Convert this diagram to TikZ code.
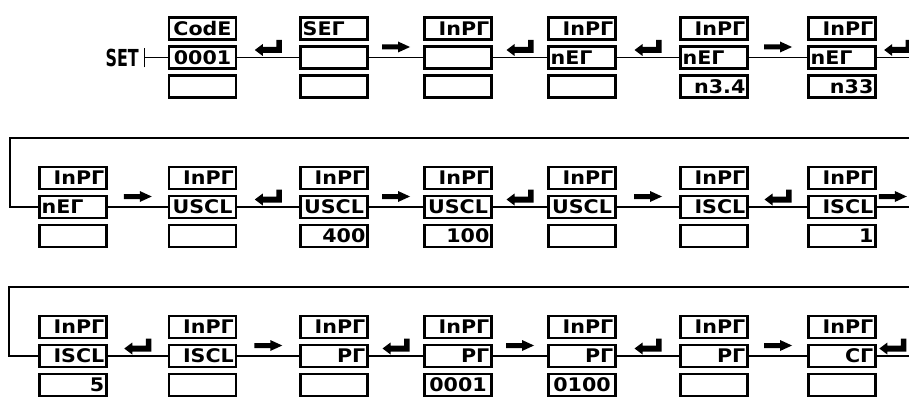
\documentclass[tikz,border=0pt]{standalone}
\usepackage{fontspec}
\newfontfamily\segfont[FakeStretch=1.1]{DejaVu Sans}
\newfontfamily\keyfont[FakeStretch=0.68]{DejaVu Sans}
\usetikzlibrary{arrows.meta}
\begin{document}
\begin{tikzpicture}[x=0.03cm,y=0.03cm,
  seg/.style={draw,line width=2.2pt,minimum width=2cm,minimum height=0.66cm,
    text width=1.88cm,inner xsep=0.06cm,inner ysep=0pt,text height=11.5pt,text depth=0pt,
    align=right,font=\segfont\bfseries\fontsize{16}{16}\selectfont},
  segl/.style={seg,align=left},
  segc/.style={seg,align=center},
  link/.style={line width=1.6pt},
  enterkey/.pic={\fill (-13.5,7.5) -- (-5.5,13.5) -- (-5.5,10.5) -- (8,10.5) -- (8,17.5)
    -- (13.5,17.5) -- (13.5,4.5) -- (-5.5,4.5) -- (-5.5,1.5) -- cycle;},
  nextkey/.pic={\fill (-14,8) -- (2,8) -- (2,5) -- (14,10.5) -- (2,16) -- (2,13)
    -- (-14,13) -- cycle;}]
\useasboundingbox (0,0) rectangle (909,-397);
% first row
\node[anchor=east,inner sep=0pt,font=\keyfont\bfseries\fontsize{20}{20}\selectfont] (setkey) at (139,-57.5) {SET};
\coordinate (setbar) at (143.5,-57.5);
\node[segc] (a2t) at (202.5,-28.5) {CodE};
\node[segc] (a2m) at (202.5,-57.5) {0001};
\node[seg] (a2l) at (202.5,-86.5) {};
\node[segl] (a3t) at (334,-28.5) {SEΓ};
\node[seg] (a3m) at (334,-57.5) {};
\node[seg] (a3l) at (334,-86.5) {};
\node[seg] (a4t) at (458,-28.5) {InPΓ};
\node[seg] (a4m) at (458,-57.5) {};
\node[seg] (a4l) at (458,-86.5) {};
\node[seg] (a5t) at (582,-28.5) {InPΓ};
\node[segl] (a5m) at (582,-57.5) {nEΓ};
\node[seg] (a5l) at (582,-86.5) {};
\node[seg] (a6t) at (714,-28.5) {InPΓ};
\node[segl] (a6m) at (714,-57.5) {nEΓ};
\node[seg] (a6l) at (714,-86.5) {n3.4};
\node[seg] (a7t) at (842,-28.5) {InPΓ};
\node[segl] (a7m) at (842,-57.5) {nEΓ};
\node[seg] (a7l) at (842,-86.5) {n33};
\coordinate (a8) at (909,-57.5);
\draw[link,{Bar[width=17pt]}-] (setbar) -- (a2m);
\draw[link] (a2m) -- pic[pos=.5]{enterkey} (a3m);
\draw[link] (a3m) -- pic[pos=.5]{nextkey} (a4m);
\draw[link] (a4m) -- pic[pos=.5]{enterkey} (a5m);
\draw[link] (a5m) -- pic[pos=.5]{enterkey} (a6m);
\draw[link] (a6m) -- pic[pos=.5]{nextkey} (a7m);
\draw[link] (a7m) -- pic[pos=.65]{enterkey} (a8);
% second row
\node[seg] (b1t) at (73,-178) {InPΓ};
\node[segl] (b1m) at (73,-207) {nEΓ};
\node[seg] (b1l) at (73,-236) {};
\node[seg] (b2t) at (202.5,-178) {InPΓ};
\node[segc] (b2m) at (202.5,-207) {USCL};
\node[seg] (b2l) at (202.5,-236) {};
\node[seg] (b3t) at (334,-178) {InPΓ};
\node[segc] (b3m) at (334,-207) {USCL};
\node[seg] (b3l) at (334,-236) {400};
\node[seg] (b4t) at (458,-178) {InPΓ};
\node[segc] (b4m) at (458,-207) {USCL};
\node[seg] (b4l) at (458,-236) {100};
\node[seg] (b5t) at (582,-178) {InPΓ};
\node[segc] (b5m) at (582,-207) {USCL};
\node[seg] (b5l) at (582,-236) {};
\node[seg] (b6t) at (714,-178) {InPΓ};
\node[seg] (b6m) at (714,-207) {ISCL};
\node[seg] (b6l) at (714,-236) {};
\node[seg] (b7t) at (842,-178) {InPΓ};
\node[seg] (b7m) at (842,-207) {ISCL};
\node[seg] (b7l) at (842,-236) {1};
\coordinate (b0) at (10,-138);
\coordinate (b0r) at (909,-138);
\coordinate (b8) at (909,-207);
\draw[link] (b0r) -- (b0) |- (b1m);
\draw[link] (b1m) -- pic[pos=.5]{nextkey} (b2m);
\draw[link] (b2m) -- pic[pos=.5]{enterkey} (b3m);
\draw[link] (b3m) -- pic[pos=.5]{nextkey} (b4m);
\draw[link] (b4m) -- pic[pos=.5]{enterkey} (b5m);
\draw[link] (b5m) -- pic[pos=.5]{nextkey} (b6m);
\draw[link] (b6m) -- pic[pos=.5]{enterkey} (b7m);
\draw[link] (b7m) -- pic[pos=.5]{nextkey} (b8);
% third row
\node[seg] (c1t) at (73,-327) {InPΓ};
\node[seg] (c1m) at (73,-356) {ISCL};
\node[seg] (c1l) at (73,-385) {5};
\node[seg] (c2t) at (202.5,-327) {InPΓ};
\node[seg] (c2m) at (202.5,-356) {ISCL};
\node[seg] (c2l) at (202.5,-385) {};
\node[seg] (c3t) at (334,-327) {InPΓ};
\node[seg] (c3m) at (334,-356) {PΓ};
\node[seg] (c3l) at (334,-385) {};
\node[seg] (c4t) at (458,-327) {InPΓ};
\node[seg] (c4m) at (458,-356) {PΓ};
\node[segc] (c4l) at (458,-385) {0001};
\node[seg] (c5t) at (582,-327) {InPΓ};
\node[seg] (c5m) at (582,-356) {PΓ};
\node[segc] (c5l) at (582,-385) {0100};
\node[seg] (c6t) at (714,-327) {InPΓ};
\node[seg] (c6m) at (714,-356) {PΓ};
\node[seg] (c6l) at (714,-385) {};
\node[seg] (c7t) at (842,-327) {InPΓ};
\node[seg] (c7m) at (842,-356) {CΓ};
\node[seg] (c7l) at (842,-385) {};
\coordinate (c0) at (9,-287);
\coordinate (c0r) at (909,-287);
\coordinate (c8) at (909,-356);
\draw[link] (c0r) -- (c0) |- (c1m);
\draw[link] (c1m) -- pic[pos=.5]{enterkey} (c2m);
\draw[link] (c2m) -- pic[pos=.5]{nextkey} (c3m);
\draw[link] (c3m) -- pic[pos=.5]{enterkey} (c4m);
\draw[link] (c4m) -- pic[pos=.5]{nextkey} (c5m);
\draw[link] (c5m) -- pic[pos=.5]{enterkey} (c6m);
\draw[link] (c6m) -- pic[pos=.5]{nextkey} (c7m);
\draw[link] (c7m) -- pic[pos=.5]{enterkey} (c8);
\end{tikzpicture}
\end{document}
